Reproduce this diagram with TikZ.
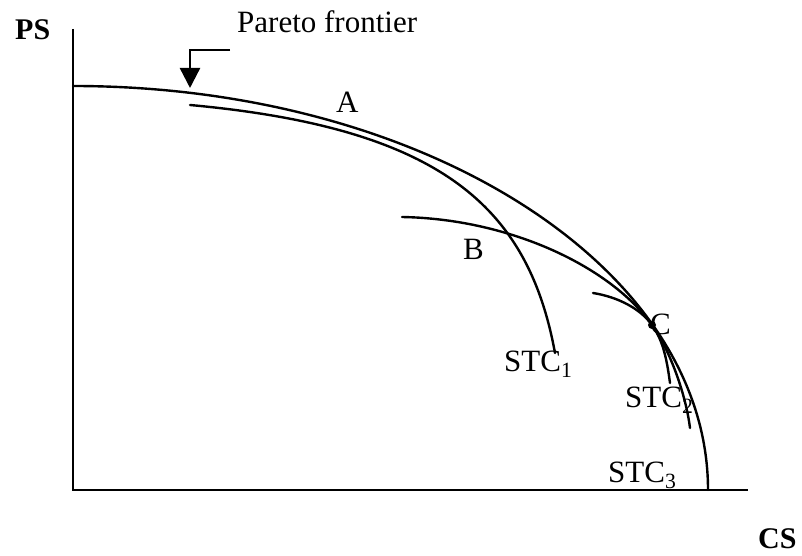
\documentclass[tikz,border=0pt]{standalone}
\usepackage{fontspec}
\setmainfont{Liberation Serif}
\usetikzlibrary{arrows.meta}
\begin{document}
\begin{tikzpicture}[x=1pt,y=1pt,
  curve/.style={line width=2.4pt, line cap=round},
  axis/.style={line width=2.4pt},
  lbl/.style={anchor=base west, inner sep=0pt, font=\fontsize{31}{37}\selectfont},
  axlbl/.style={anchor=base west, inner sep=0pt, font=\fontsize{30}{36}\selectfont\bfseries}]
\useasboundingbox (0,0) rectangle (802,556);
% axes
\coordinate (O) at (73,66);
\coordinate (ytop) at (73,527);
\coordinate (xend) at (748,66);
\draw[axis] (ytop) -- (O) -- (xend);
% Pareto frontier
\draw[curve] (73,470) arc[start angle=90,end angle=0,x radius=635,y radius=404];
% point C
\coordinate (C) at (652,231);
% STC_1
\draw[curve] (190,451) .. controls (440,428) and (528,350) .. (555,203);
% STC_2 (through B, tangent at C)
\draw[curve] (402,339) .. controls (512,337) and (611.5,288) .. (C)
             .. controls (671,204) and (686,160) .. (690,128);
% STC_3 (short, tangent at C)
\draw[curve] (593,263) .. controls (618,259) and (640.4,247.3) .. (C)
             .. controls (663.6,214.7) and (667,195) .. (670,173);
\fill (C) circle[radius=4];
% arrow to frontier
\coordinate (arrowstart) at (230,506);
\coordinate (arrowcorner) at (190,506);
\coordinate (arrowtip) at (190,468);
\draw[line width=2.4pt, -{Triangle[length=20pt,width=20pt]}] (arrowstart) -- (arrowcorner) -- (arrowtip);
% labels
\node[axlbl] (ps) at (15,516) {PS};
\node[axlbl] (cs) at (758,7) {CS};
\node[lbl] (pareto) at (237,523) {Pareto frontier};
\node[lbl] (a) at (336,443) {A};
\node[lbl] (b) at (463,296) {B};
\node[lbl] (c) at (650,221) {C};
\node[lbl] (stc1) at (504,184) {STC\textsubscript{1}};
\node[lbl] (stc2) at (625,148) {STC\textsubscript{2}};
\node[lbl] (stc3) at (608,73) {STC\textsubscript{3}};
\end{tikzpicture}
\end{document}
